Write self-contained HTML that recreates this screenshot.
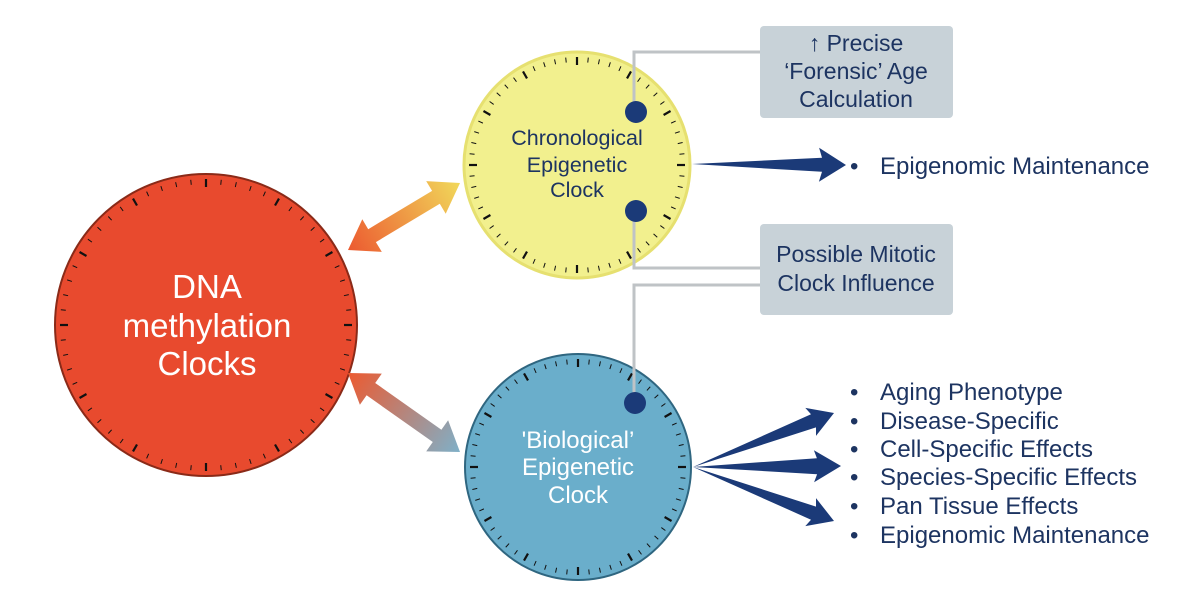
<!DOCTYPE html>
<html><head><meta charset="utf-8"><style>
body{margin:0;background:#fff;}
svg{display:block;font-family:"Liberation Sans",sans-serif;}
</style></head><body>
<svg id="s" width="1200" height="598" viewBox="0 0 1200 598" xmlns="http://www.w3.org/2000/svg">
<defs>
<linearGradient id="gy" x1="348" y1="250" x2="460" y2="183" gradientUnits="userSpaceOnUse">
<stop offset="0" stop-color="#ec5a30"/><stop offset="1" stop-color="#f1d85a"/></linearGradient>
<linearGradient id="gb" x1="348" y1="373" x2="460" y2="452" gradientUnits="userSpaceOnUse">
<stop offset="0" stop-color="#ec5a30"/><stop offset="1" stop-color="#7fb0c8"/></linearGradient>
</defs>
<g stroke="#bfc3c6" stroke-width="3" fill="none">
<polyline points="760,52 634,52 634,112"/>
<polyline points="634,211 634,268 760,268"/>
<polyline points="760,285 634,285 634,395"/>
</g>
<circle cx="206" cy="325" r="151" fill="#e84a2e" stroke="#8a2a18" stroke-width="2"/>
<circle cx="577" cy="165" r="113" fill="#f2f08e" stroke="#e6e070" stroke-width="3"/>
<circle cx="578" cy="467" r="113" fill="#6aaecb" stroke="#2f6680" stroke-width="2"/>
<g id="ticks" stroke="#111"></g>
<g stroke="#bfc3c6" stroke-width="3" fill="none">
<line x1="634" y1="52" x2="634" y2="112"/><line x1="634" y1="211" x2="634" y2="268"/><line x1="634" y1="285" x2="634" y2="395"/>
</g>
<circle cx="636" cy="112" r="11" fill="#1b3a78"/>
<circle cx="636" cy="211" r="11" fill="#1b3a78"/>
<circle cx="635" cy="403" r="11" fill="#1b3a78"/>
<rect x="760" y="26" width="193" height="92" rx="4" fill="#c8d2d8"/>
<rect x="760" y="224" width="193" height="91" rx="4" fill="#c8d2d8"/>
<g fill="#1d3461" font-size="23" text-anchor="middle">
<text x="856" y="51">↑ Precise</text>
<text x="856" y="79">‘Forensic’ Age</text>
<text x="856" y="107">Calculation</text>
<text x="856" y="262">Possible Mitotic</text>
<text x="856" y="291">Clock Influence</text>
</g>
<polygon id="ay" fill="url(#gy)"/>
<polygon id="ab" fill="url(#gb)"/>
<g fill="#1b3a78" id="dark"></g>
<g fill="#1d3461" font-size="24">
<text x="850" y="174">•</text><text x="880" y="174">Epigenomic Maintenance</text>
<text x="850" y="400">•</text><text x="880" y="400">Aging Phenotype</text>
<text x="850" y="429">•</text><text x="880" y="429">Disease-Specific</text>
<text x="850" y="457">•</text><text x="880" y="457">Cell-Specific Effects</text>
<text x="850" y="485">•</text><text x="880" y="485">Species-Specific Effects</text>
<text x="850" y="514">•</text><text x="880" y="514">Pan Tissue Effects</text>
<text x="850" y="543">•</text><text x="880" y="543">Epigenomic Maintenance</text>
</g>
<g fill="#fff" font-size="33" text-anchor="middle">
<text x="207" y="298">DNA</text>
<text x="207" y="337">methylation</text>
<text x="207" y="375">Clocks</text>
</g>
<g fill="#1d3461" font-size="21.5" text-anchor="middle">
<text x="577" y="145">Chronological</text>
<text x="577" y="172">Epigenetic</text>
<text x="577" y="197">Clock</text>
</g>
<g fill="#fff" font-size="24" text-anchor="middle">
<text x="578" y="448">'Biological’</text>
<text x="578" y="475">Epigenetic</text>
<text x="578" y="503">Clock</text>
</g>
</svg>
<script>
var ns='http://www.w3.org/2000/svg',g=document.getElementById('ticks');
[[206,325,151],[577,165,113],[578,467,113]].forEach(function(c){
for(var i=0;i<60;i++){var a=i*Math.PI/30,maj=i%5==0,r1=c[2]-5,r2=r1-(maj?8:5);
var l=document.createElementNS(ns,'line');
l.setAttribute('x1',c[0]+r1*Math.sin(a));l.setAttribute('y1',c[1]-r1*Math.cos(a));
l.setAttribute('x2',c[0]+r2*Math.sin(a));l.setAttribute('y2',c[1]-r2*Math.cos(a));
l.setAttribute('stroke-width',maj?2.2:1);g.appendChild(l);}});
function P(x,y){return x.toFixed(1)+','+y.toFixed(1);}
function dbl(x1,y1,x2,y2,w,hw,hl){
 var dx=x2-x1,dy=y2-y1,L=Math.hypot(dx,dy),ux=dx/L,uy=dy/L,nx=-uy,ny=ux,p=[];
 function pt(t,s){p.push(P(x1+ux*t+nx*s,y1+uy*t+ny*s));}
 pt(0,0);pt(hl,hw/2);pt(hl,w/2);pt(L-hl,w/2);pt(L-hl,hw/2);pt(L,0);pt(L-hl,-hw/2);pt(L-hl,-w/2);pt(hl,-w/2);pt(hl,-hw/2);
 return p.join(' ');}
document.getElementById('ay').setAttribute('points',dbl(348,250,460,183,15,38,28));
document.getElementById('ab').setAttribute('points',dbl(348,373,460,452,15,38,28));
function sgl(x1,y1,x2,y2,w,hw,hl){
 var dx=x2-x1,dy=y2-y1,L=Math.hypot(dx,dy),ux=dx/L,uy=dy/L,nx=-uy,ny=ux,p=[];
 function pt(t,s){p.push(P(x1+ux*t+nx*s,y1+uy*t+ny*s));}
 pt(0,0);pt(L-hl,w/2);pt(L-hl-3,hw/2);pt(L,0);pt(L-hl-3,-hw/2);pt(L-hl,-w/2);
 return p.join(' ');}
var d=document.getElementById('dark');
[[692,164,846,165,14,34,24],[693,467,834,413,14,30,22],[693,467,841,466,16,32,24],[693,467,834,521,14,30,22]].forEach(function(a){
 var q=document.createElementNS(ns,'polygon');q.setAttribute('points',sgl.apply(null,a));d.appendChild(q);});
</script>
</body></html>
